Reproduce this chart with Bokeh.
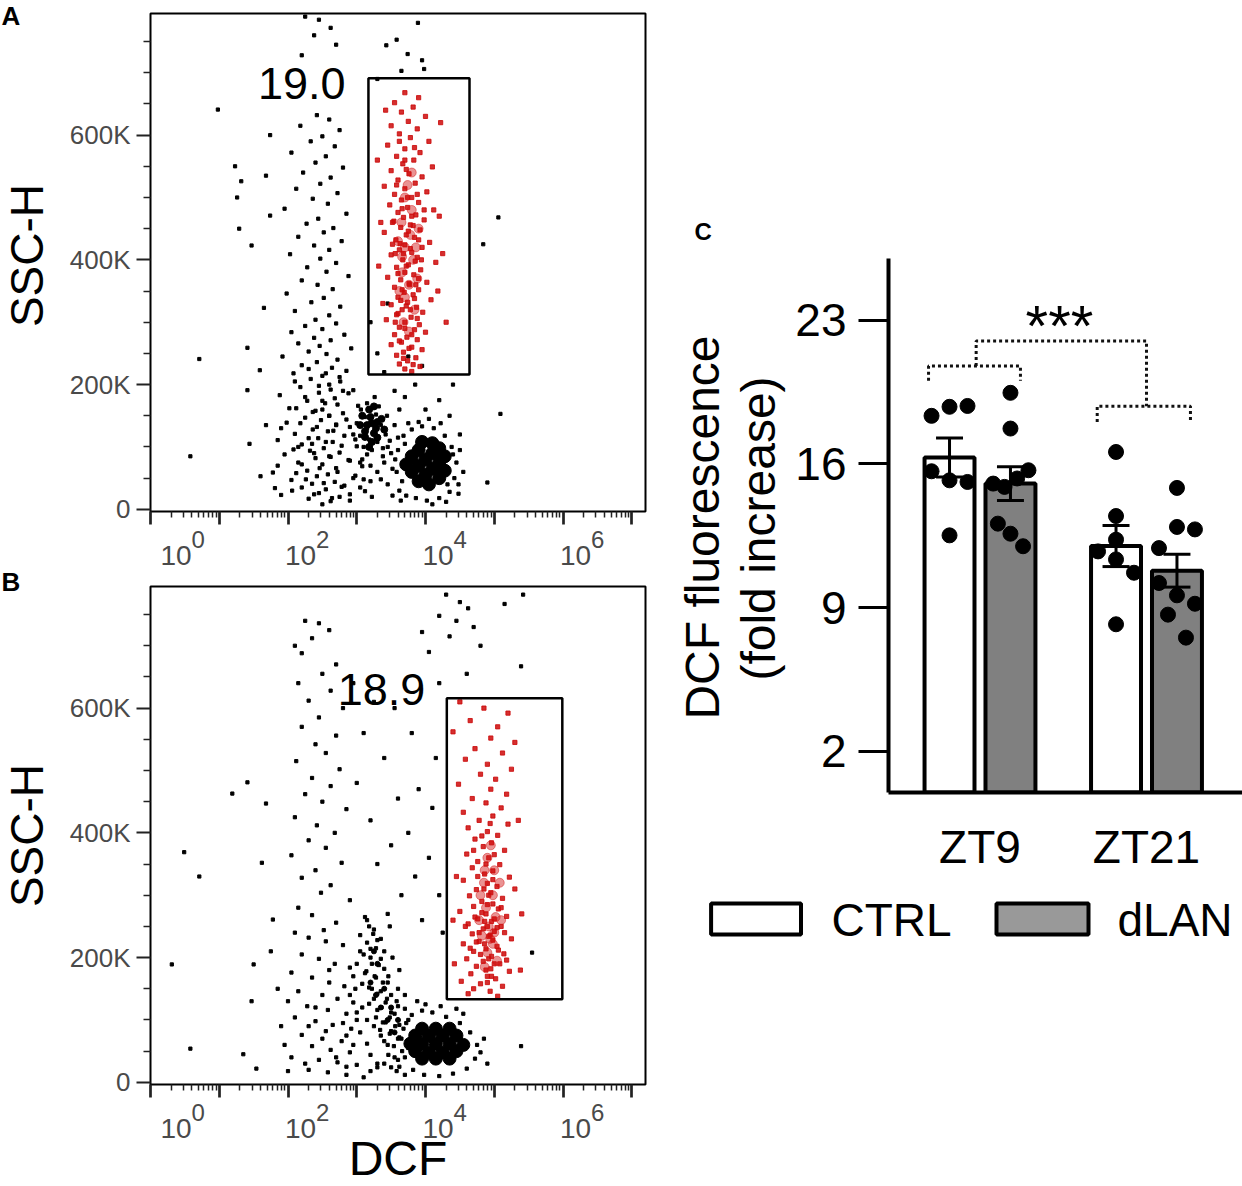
import math
from bokeh.plotting import figure
from bokeh.layouts import row, column
from bokeh.models import Range1d, FixedTicker, Label
from bokeh.core.properties import value
from bokeh.embed import file_html
from bokeh.resources import INLINE

FONT = "Liberation Sans"

# ---------------- Panels A / B : DCF (decades, 10^k) vs SSC-H (K) ----------------
dcf_decades = [0, 1, 2, 3, 4, 5, 6, 7]
dcf_label_exps = [0, 2, 4, 6]
ssc_ticks = [0, 200, 400, 600]
ssc_labels = ["0", "200K", "400K", "600K"]
ssc_minor = [50, 100, 150, 250, 300, 350, 450, 500, 550, 650, 700, 750]

a_pct = "19.0"
a_gate = [3.17, 4.64, 216, 691]          # left, right, bottom, top
a_black = [
    (2.25,790),(2.45,785),(2.62,772),(2.38,760),(2.7,745),(2.2,728),
    (3.58,753),(3.74,730),(3.95,720),(3.43,744),(3.89,780),(3.98,706),(3.65,703),(3.3,690),
    (0.98,641),(1.23,550),(1.32,526),(1.26,500),(1.29,450),(1.47,423),(0.71,241),(0.58,85),(1.41,259),
    (1.41,191),(1.65,323),(1.68,535),(1.74,600),(1.74,471),(1.59,223),(1.68,135),(1.44,105),(1.6,53),(1.81,34),
    (5.06,468),(4.84,425),(5.09,153),(4.9,43),
    (2.42,632),(2.6,625),(2.18,615),(2.75,608),(2.5,598),(2.33,590),(2.68,582),(2.05,572),(2.55,566),(2.4,556),
    (2.8,548),(2.22,540),(2.62,532),(2.47,522),(2.12,514),(2.72,507),(2.36,498),(2.58,490),(1.95,482),(2.85,474),
    (2.44,466),(2.27,458),(2.66,451),
    (2.52,444),(2.15,437),(2.78,430),(2.38,423),(2.6,416),(2.03,409),(2.47,402),(2.7,395),(2.28,388),(2.56,381),
    (2.88,374),(2.2,367),(2.43,360),(2.65,353),(1.98,346),(2.52,339),(2.34,332),(2.76,325),(2.1,318),(2.6,311),(2.4,304),
    (2.7,298),(2.25,294),(2.5,289),(2.05,284),(2.82,280),(2.38,275),(2.62,271),(2.15,266),(2.46,262),(2.92,258),
    (2.3,253),(2.56,249),(1.92,245),(2.72,240),(2.42,236),(2.2,231),(2.64,227),(2.85,222),(2.08,218),(2.5,214),
    (2.33,209),(2.76,205),(2.6,200),(2.18,196),(2.95,191),(2.45,187),(1.88,183),(2.68,178),(2.28,174),(2.54,170),
    (3.02,166),(2.12,162),(2.4,158),(2.8,154),(2.6,150),
    (2.25,147),(2.48,143),(1.98,139),(2.7,136),(2.9,132),(2.36,128),(2.58,125),(2.1,121),(2.82,118),(2.44,114),
    (1.85,111),(2.65,108),(2.2,104),(3.0,101),(2.52,98),(2.32,94),(2.75,91),(1.95,88),(2.6,85),(2.4,82),
    (2.88,79),(2.15,75),(2.5,72),(3.08,69),(2.7,66),(2.28,62),(1.78,59),(2.58,56),(2.42,53),(2.95,50),
    (2.05,47),(2.68,44),(2.35,41),(2.82,38),(2.2,35),(2.55,32),(3.12,29),(2.45,26),(1.9,23),(2.75,20),
    (2.3,17),(2.62,13),(2.5,8),(2.9,24),(3.2,45),(3.15,88),(2.12,58),(2.98,112),
    (3.3,60),(3.45,40),(3.38,85),(3.52,22),(3.22,20),(3.05,35),(3.55,190),(3.4,220),(3.7,180),(3.85,200),
    (4.0,160),(4.2,175),(4.35,150),(3.62,160),(4.4,200),(3.95,230),(3.75,245),(4.5,120),(4.55,60),(4.48,25),
    (3.3,250),(3.2,300),(3.45,330),
    (2.3,225),(2.55,218),(2.75,212),(2.1,205),(2.45,198),(2.62,192),(2.88,186),(2.25,180),(2.5,174),(2.72,168),
    (2.02,162),(2.36,156),(2.6,150),(2.85,144),(2.18,138),(2.42,132),(2.66,126),(2.95,120),(2.3,114),(2.55,108),
    (2.78,102),(2.08,96),(2.38,90),(2.62,84),(2.9,78),(2.2,72),(2.46,66),(2.72,60),(2.98,54),(2.26,48),
    (2.52,42),(2.78,36),(2.06,30),(2.38,24),(2.64,18),(2.9,14),(3.05,75),(3.1,48),(2.35,105),(2.7,135),
    (2.5,160),(2.8,190),(2.15,100),(1.9,130),(1.85,70),(3.35,48),(3.45,100),(3.52,65),
    (3.06,160),(3.12,148),(3.2,140),(3.28,152),(3.15,130),(3.25,125),(3.35,135),(3.05,118),(3.18,112),(3.3,108),
    (3.42,120),(3.1,100),(3.22,95),(3.38,98),(3.48,110),(3.0,138),(3.32,165),(3.44,150),(3.15,170),(3.26,180),
    (3.5,90),(3.4,75),(3.08,80),(3.2,70),(3.55,135),(3.6,115),
    (3.62,30),(3.58,60),(3.6,95),(3.68,118),(3.8,128),(3.95,133),(4.12,130),(4.28,118),(4.38,100),(4.45,75),
    (4.42,50),(4.35,28),(4.2,18),(4.02,14),(3.86,18),(3.72,22),(3.66,45),(3.7,105),(4.32,40),(4.4,88),
    (3.9,140),(4.05,145),(4.22,138),(3.75,138),(4.5,95),(3.56,80),(4.48,40),(3.64,14),(4.1,8),(4.3,12),
]
a_cluster = [(3.15,135),(3.25,122),(3.2,148),(3.3,140),(3.12,116),(3.22,108),(3.08,150),(3.18,160),(3.28,130),
             (3.36,145),(3.12,125),(3.22,138),(3.3,115),(3.18,100),(3.4,128),(3.05,135),(3.25,165)]
a_core = [
    (3.8,60),(3.8,85),(3.9,45),(3.9,70),(3.9,95),(3.95,108),(4.0,55),(4.0,80),(4.05,40),(4.1,65),
    (4.1,90),(4.1,106),(4.2,50),(4.2,75),(4.2,98),(4.28,62),(4.28,85),(3.72,72),
]
a_red = [
    (3.7,668),(3.9,660),(3.55,652),(3.82,645),(3.65,637),(4.0,630),(3.75,622),(3.5,615),(3.88,610),(3.62,602),
    (3.78,596),(4.05,590),(3.45,584),(3.7,578),(3.92,572),(3.58,566),(3.83,560),(3.67,554),(4.1,549),(3.5,543),
    (3.76,538),(3.95,533),(3.6,528),(3.85,523),(3.4,518),(3.7,514),(4.02,509),(3.55,505),(3.8,500),(3.65,496),
    (3.9,492),(3.48,488),(3.74,484),(4.12,480),(3.6,476),(3.86,472),(3.68,468),(3.98,464),(3.52,460),(3.78,456),
    (3.64,452),(3.92,448),(3.4,444),(3.72,440),(3.84,436),(3.57,432),(4.06,428),(3.7,424),(3.95,420),(3.62,416),
    (3.8,412),(3.5,408),(3.88,404),(3.67,400),(4.15,396),(3.75,392),(3.58,388),(3.93,384),(3.7,380),(3.83,376),
    (3.45,372),(3.64,368),(4.02,364),(3.77,360),(3.55,356),(3.9,352),(3.69,348),(3.82,344),(3.6,340),(4.08,336),
    (3.74,332),(3.5,328),(3.87,324),(3.66,320),(3.96,316),(3.58,312),(3.79,308),(3.43,304),(3.7,300),(3.91,296),
    (3.62,292),(3.84,288),(4.0,284),(3.55,280),(3.73,276),(3.88,272),(3.65,268),(3.5,264),(3.8,260),(3.95,256),
    (3.68,252),(3.58,247),(3.86,243),(3.74,238),(3.62,233),(3.92,229),(3.7,225),(3.8,221),
    (3.72,545),(3.58,520),(3.88,505),(3.66,482),(3.8,470),(3.54,462),(3.75,446),(3.9,432),(3.63,426),(3.78,418),
    (3.56,410),(3.85,398),(3.72,390),(3.6,378),(3.9,370),(3.76,362),(3.66,352),(3.84,338),(3.72,326),(3.6,314),
    (3.88,306),(3.7,290),(3.8,280),(3.62,270),(3.76,258),(3.68,242),(3.82,232),(3.7,560),(3.84,580),(3.62,590),
    (4.2,470),(4.25,410),(4.18,350),(4.3,300),(3.35,460),(3.32,390),(3.38,330),(3.3,560),(4.22,620),(3.42,640),
    (3.74,500),(3.68,410),(3.82,455),(3.64,335),(3.86,360),(3.56,300),(3.78,320),(3.94,400),(3.52,425),(3.98,480),
]
a_red_core = [(3.7,500),(3.8,480),(3.65,460),(3.78,440),(3.7,420),(3.82,400),(3.66,380),(3.76,360),(3.7,340),
              (3.84,320),(3.68,300),(3.76,285),(3.6,430),(3.9,450),(3.62,350),(3.88,370),(3.74,520),(3.8,540),
              (3.66,405),(3.86,420)]

b_pct = "18.9"
b_gate = [4.31, 5.99, 133, 616]
b_black = [
    (4.3,782),(4.5,770),(4.62,760),(4.2,748),(4.45,740),(4.7,730),(4.35,715),(3.95,722),(4.05,690),(5.42,782),
    (5.15,767),(5.39,667),(4.8,700),(4.6,655),(4.2,640),
    (2.25,740),(2.45,736),(2.6,725),(2.35,712),(2.1,700),(2.2,688),(2.7,670),(2.5,655),(2.15,640),(2.62,628),
    (2.3,612),(2.8,600),(2.45,585),(2.2,570),(2.7,556),(2.4,542),(2.55,528),(2.12,515),(2.75,502),(2.35,488),
    (2.62,475),(2.25,462),(2.5,450),(2.85,438),(2.1,425),(2.42,412),(2.68,400),(2.3,388),(2.55,376),(2.05,364),
    (2.78,352),(2.4,340),(2.2,328),(2.62,316),(2.48,304),(2.9,292),(2.15,280),(2.35,268),(2.7,256),(2.52,244),
    (3.4,520),(3.0,480),(3.6,455),(3.2,420),(3.75,400),(3.9,470),(4.1,440),(3.5,380),(3.3,350),(3.85,330),
    (4.05,360),(3.65,300),(3.45,270),(4.2,300),(3.1,560),(3.55,600),(2.95,640),(3.8,560),(4.15,520),(3.25,610),
    (3.95,260),(4.25,240),
    (0.31,189),(0.49,369),(0.71,330),(0.58,54),(1.19,463),(1.41,481),(1.68,447),(1.54,22),(1.35,45),(1.5,189),
    (1.47,130),(1.62,352),(1.78,261),(5.55,208),(5.39,58),(1.85,150),(1.9,90),(1.75,210),
    (2.1,240),(2.3,232),(2.55,226),(2.8,220),(3.15,260),(3.25,245),(3.05,236),(3.3,228),(3.2,214),(3.1,205),
    (3.35,198),(3.22,190),(3.4,182),(3.12,175),(3.28,168),(3.45,160),(3.18,152),(3.35,146),(3.5,140),(3.25,134),
    (3.42,128),(3.6,122),(3.3,116),(3.55,110),(3.7,118),(3.48,104),(3.38,96),(3.62,92),
    (2.2,205),(2.45,198),(2.68,190),(2.9,184),(2.05,176),(2.35,168),(2.6,160),(2.82,154),(2.15,146),(2.5,140),
    (2.72,134),(2.95,128),(2.28,122),(2.58,116),(2.85,110),(2.1,104),(2.4,98),(2.65,92),(2.92,86),(3.05,80),
    (2.2,76),(2.5,70),(2.78,66),(3.15,62),(2.35,58),(2.62,52),(2.9,48),(3.2,44),(2.05,40),(2.45,36),
    (2.72,32),(3.0,28),(3.3,24),(2.3,20),(2.58,16),(2.85,12),(3.1,8),(3.45,60),(3.55,40),(3.4,30),
    (3.6,70),(3.5,82),(3.25,90),(3.0,100),(2.98,150),(3.08,120),(3.15,100),(2.85,75),(3.35,75),(3.58,18),(3.7,12),
    (3.12,265),(3.18,250),(3.24,238),(3.15,224),(3.28,215),(3.2,200),(3.32,188),(3.14,178),(3.26,170),(3.38,160),
    (3.22,150),(3.3,142),(3.44,134),(3.18,126),(3.36,120),(3.5,112),(3.28,104),(3.42,96),(3.56,90),(3.34,84),
    (3.48,78),(3.62,72),(3.4,66),(3.54,58),(3.66,50),(3.46,44),(3.6,36),(3.3,30),(3.5,24),(3.2,18),
    (3.05,210),(3.0,190),(2.95,170),(3.08,158),(2.9,140),(3.0,112),(2.8,95),(2.95,60),(2.7,40),(2.85,25),
    (3.6,150),(3.7,140),(3.75,100),(3.68,86),(3.58,130),(3.46,170),(3.52,200),(3.62,180),(3.4,210),(3.35,230),
    (3.48,250),(2.6,180),(2.4,120),(2.3,90),(2.55,82),(2.0,130),(1.95,60),(2.25,30),(2.0,18),
    (3.7,40),(3.65,70),(3.72,95),(3.8,108),(3.95,115),(4.1,112),(4.3,105),(4.5,95),(4.65,80),(4.75,60),
    (4.72,38),(4.6,22),(4.4,14),(4.2,10),(3.98,12),(3.82,20),(3.75,55),(4.8,48),(4.85,70),(3.62,25),
    (4.55,110),(4.0,125),(4.22,122),(3.88,130),(4.45,118),(4.9,30),
]
b_cluster = [(3.2,160),(3.28,140),(3.35,120),(3.45,100),(3.55,80),(3.3,190),(3.4,150),(3.5,120),(3.6,100),(3.25,210)]
b_core = [
    (3.85,50),(3.85,75),(3.95,38),(3.95,62),(3.95,86),(4.05,48),(4.05,75),(4.15,38),(4.15,62),(4.15,86),
    (4.25,48),(4.25,75),(4.35,38),(4.35,62),(4.35,86),(4.45,50),(4.45,75),(4.55,60),(3.78,62),
]
b_red = [
    (4.5,610),(4.85,600),(5.2,592),(4.65,580),(5.05,570),(4.4,562),(4.95,552),(5.3,545),(4.72,535),(5.12,528),
    (4.58,518),(4.9,510),(5.25,502),(4.8,494),(5.02,486),(4.48,478),(4.95,470),(5.18,462),(4.68,455),(4.88,448),
    (5.1,440),(4.55,433),(4.98,427),(4.78,420),(5.2,414),(4.62,408),(4.9,402),(5.05,396),(4.72,390),(4.96,384),
    (4.84,378),(5.15,372),(4.6,366),(4.92,360),(4.76,354),(5.08,349),(4.68,344),(4.98,339),(4.86,334),(5.22,329),
    (4.55,324),(4.9,319),(5.04,314),(4.74,309),(4.95,304),(4.64,299),(5.12,295),(4.82,290),(4.98,286),(4.7,282),
    (5.06,278),(4.5,274),(4.88,270),(5.18,266),(4.76,262),(4.96,258),(4.62,254),(5.1,250),(4.84,246),(5.0,242),
    (4.68,238),(4.92,234),(5.25,230),(4.78,226),(4.55,222),(5.04,218),(4.88,214),(4.7,210),(5.14,206),(4.96,202),
    (4.6,198),(4.84,194),(5.08,190),(4.74,186),(4.95,182),(5.22,178),(4.66,174),(4.9,170),(5.02,166),(4.52,162),
    (4.8,158),(5.12,154),(4.7,150),(4.94,146),(4.62,142),(5.05,138),
    (4.92,300),(4.82,272),(5.0,262),(4.9,250),(4.78,240),(4.98,228),(4.86,222),(5.06,212),(4.92,198),(4.8,205),
    (5.0,190),(4.88,180),(4.96,170),(4.72,265),(5.1,280),(4.85,310),(4.98,325),(4.76,330),(4.88,350),(5.0,365),
    (4.82,395),(4.94,415),(4.7,372),(5.15,240),(4.65,215),(5.18,196),(4.58,250),(5.3,310),(4.45,330),(5.35,420),
    (4.4,260),(4.42,190),(5.4,270),(5.38,180),(4.9,285),(4.86,258),(5.04,248),(4.94,236),(4.74,225),(4.9,160),
]
b_red_core = [(4.9,360),(5.0,340),(4.85,320),(4.98,300),(4.88,280),(5.02,265),(4.92,250),(4.82,235),(4.98,222),
              (4.9,208),(5.04,195),(4.86,185),(4.95,380),(4.8,300),(5.1,260),(4.78,260),(5.08,320),(4.94,230),
              (4.86,340),(5.0,240)]

# ---------------- Panel C : bar chart ----------------
groups = ["ZT9", "ZT21"]
ctrl_mean = [16.31, 12.00]
ctrl_sem = [0.95, 1.00]
dlan_mean = [15.04, 10.80]
dlan_sem = [0.82, 0.80]
ctrl_pts = [[18.34, 18.78, 18.82, 15.64, 15.20, 15.12, 12.52],
            [16.58, 13.46, 12.31, 11.74, 11.35, 10.70, 8.19]]
ctrl_jit = [[-1, 0, 1, -1, 0, 1, 0],
            [0, 0, 0, -1, 0, 1, 0]]
dlan_pts = [[19.46, 17.72, 15.69, 15.29, 15.04, 14.88, 13.09, 12.60, 11.99],
            [14.83, 12.93, 12.81, 11.90, 10.20, 9.60, 9.19, 8.66, 7.54]]
dlan_jit = [[0, 0, 1, 0.37, -0.96, -0.33, -0.7, 0, 0.7],
            [0, 0, 1, -1, -1, 0, 1, -0.5, 0.5]]
c_yticks = [2, 9, 16, 23]
series_names = ["CTRL", "dLAN"]
significance = "***"
c_ylabel = ["DCF fluorescence", "(fold increase)"]


def unzip(pts):
    xs, ys = zip(*pts)
    return list(xs), list(ys)


def bare(width, height, xr, yr, **borders):
    p = figure(width=width, height=height, x_range=xr, y_range=yr, output_backend="svg",
               toolbar_location=None, x_axis_location=None, y_axis_location=None,
               min_border_left=borders.get("left", 0), min_border_right=borders.get("right", 0),
               min_border_top=borders.get("top", 0), min_border_bottom=borders.get("bottom", 0))
    p.grid.visible = False
    p.outline_line_color = None
    p.background_fill_color = "white"
    p.border_fill_color = "white"
    return p


def txt(p, xs, ys, texts, size, **kw):
    p.text(x=xs, y=ys, text=texts, text_font=value(FONT), text_font_size=size,
           text_baseline="middle", **kw)


def flow_panel(height, top_b, black, cluster, cluster_size, core, red, red_core, gate, pct, pct_xy):
    p = figure(width=594, height=height, x_range=Range1d(0, 7.2), y_range=Range1d(-3.5, 795),
               output_backend="svg", toolbar_location=None,
               min_border_left=82, min_border_right=15, min_border_top=top_b, min_border_bottom=14)
    p.grid.visible = False
    p.outline_line_color = "black"
    p.outline_line_width = 2
    p.background_fill_color = "white"
    p.border_fill_color = "white"

    ya = p.yaxis[0]
    ya.ticker = FixedTicker(ticks=ssc_ticks, minor_ticks=ssc_minor)
    ya.major_label_overrides = {t: l for t, l in zip(ssc_ticks, ssc_labels)}
    ya.major_label_text_font = FONT
    ya.major_label_text_font_size = "26px"
    ya.major_label_text_color = "#4a4a4a"
    ya.major_label_standoff = 6
    ya.major_tick_out = 14
    ya.major_tick_in = 0
    ya.minor_tick_out = 7
    ya.minor_tick_in = 0
    ya.major_tick_line_width = 2
    ya.minor_tick_line_width = 1.5
    ya.major_tick_line_color = "#222222"
    ya.minor_tick_line_color = "#222222"
    ya.axis_line_color = None

    xa = p.xaxis[0]
    minor = [k + math.log10(m) for k in dcf_decades[:-1] for m in range(2, 10)]
    xa.ticker = FixedTicker(ticks=dcf_decades, minor_ticks=minor)
    xa.major_label_overrides = {k: "" for k in dcf_decades}
    xa.major_label_text_font_size = "1px"
    xa.major_label_standoff = 0
    xa.major_tick_out = 13
    xa.major_tick_in = 0
    xa.minor_tick_out = 6
    xa.minor_tick_in = 0
    xa.major_tick_line_width = 2.7
    xa.minor_tick_line_width = 1.5
    xa.major_tick_line_color = "#222222"
    xa.minor_tick_line_color = "#222222"
    xa.axis_line_color = None

    bx, by = unzip(black)
    p.scatter(bx, by, marker="square", size=3.2, color="black")
    cx, cy = unzip(cluster)
    p.scatter(cx, cy, marker="circle", size=cluster_size, color="black")
    kx, ky = unzip(core)
    p.scatter(kx, ky, marker="circle", size=13, color="black")
    rx, ry = unzip(red)
    p.scatter(rx, ry, marker="square", size=4.2, color="#cc0a0a", alpha=0.85)
    qx, qy = unzip(red_core)
    p.scatter(qx, qy, marker="circle", size=9, color="#d01010", alpha=0.45)

    p.quad(left=[gate[0]], right=[gate[1]], bottom=[gate[2]], top=[gate[3]],
           fill_color=None, line_color="black", line_width=2.5)
    p.add_layout(Label(x=pct_xy[0], y=pct_xy[1], text=pct, text_align="center", text_baseline="middle",
                       text_font=FONT, text_font_size="45px", text_color="black"))
    return p


def decade_strip(height, y_top, y_bottom, sup_mid, base_mid, xlabel=None, xlabel_mid=None):
    s = bare(594, height, Range1d(0, 7.2), Range1d(y_bottom, y_top), left=82, right=15)
    n = len(dcf_label_exps)
    shift = [10 if k == 0 else -3 for k in dcf_label_exps]
    txt(s, dcf_label_exps, [base_mid] * n, ["10"] * n, "28px", x_offset=shift,
        text_color="#4a4a4a", text_align="left")
    txt(s, dcf_label_exps, [sup_mid] * n, [str(k) for k in dcf_label_exps], "24px",
        x_offset=[d + 31 for d in shift], text_color="#4a4a4a", text_align="left")
    if xlabel:
        txt(s, [3.6], [xlabel_mid], [xlabel], "48px", text_color="black", text_align="center")
    return s


# layout in page pixels (the page has no margin)
pA = flow_panel(525, 13, a_black, a_cluster, 7, a_core, a_red, a_red_core, a_gate, a_pct, (2.2, 683))
pAx = decade_strip(53, 525, 578, 538.5, 554.5)
pB = flow_panel(520, 8, b_black, b_cluster, 5, b_core, b_red, b_red_core, b_gate, b_pct, (3.36, 630))
pBx = decade_strip(88, 1098, 1186, 1111.5, 1127.5, "DCF", 1158)

# left strip: panel letters and y-axis titles
pLT = bare(66, 1186, Range1d(0, 66), Range1d(1186, 0))
txt(pLT, [1, 1], [15.5, 581], ["A", "B"], "26px", text_font_style="bold", text_align="left",
    text_color="black")
txt(pLT, [26, 26], [255, 835], ["SSC-H", "SSC-H"], "46px", angle=math.pi / 2, text_align="center",
    text_color="black")

# ---------------- Panel C ----------------
OFF = 0.183
JIT = 0.108
pC = figure(width=450, height=620, x_range=Range1d(-0.5495, 1.5766), y_range=Range1d(0, 26),
            output_backend="svg", toolbar_location=None,
            min_border_left=96, min_border_right=0, min_border_top=0, min_border_bottom=86)
pC.grid.visible = False
pC.outline_line_color = None
pC.background_fill_color = "white"
pC.border_fill_color = "white"

yc = pC.yaxis[0]
yc.ticker = FixedTicker(ticks=c_yticks, minor_ticks=[])
yc.major_label_text_font = FONT
yc.major_label_text_font_size = "46px"
yc.major_label_text_color = "black"
yc.major_label_standoff = 12
yc.major_tick_out = 30
yc.major_tick_in = 0
yc.major_tick_line_width = 3
yc.minor_tick_line_color = None
yc.axis_line_width = 4
yc.axis_line_color = "black"

xc = pC.xaxis[0]
xc.ticker = FixedTicker(ticks=[0, 1], minor_ticks=[])
xc.major_label_overrides = {i: g for i, g in enumerate(groups)}
xc.major_label_text_font = FONT
xc.major_label_text_font_size = "46px"
xc.major_label_text_color = "black"
xc.major_label_standoff = 22
xc.major_tick_line_color = None
xc.minor_tick_line_color = None
xc.axis_line_width = 4
xc.axis_line_color = "black"

gx = list(range(len(groups)))
for means, sems, pts, jit, off, fill in [(ctrl_mean, ctrl_sem, ctrl_pts, ctrl_jit, -OFF, "white"),
                                         (dlan_mean, dlan_sem, dlan_pts, dlan_jit, OFF, "#808080")]:
    xs = [g + off for g in gx]
    pC.vbar(x=xs, top=means, width=0.30, bottom=0, fill_color=fill, line_color="black", line_width=4)
    lo = [m - s for m, s in zip(means, sems)]
    hi = [m + s for m, s in zip(means, sems)]
    pC.segment(x0=xs, x1=xs, y0=lo, y1=hi, line_color="black", line_width=3)
    pC.segment(x0=[x - 0.081 for x in xs], x1=[x + 0.081 for x in xs], y0=hi, y1=hi, line_color="black", line_width=3)
    pC.segment(x0=[x - 0.081 for x in xs], x1=[x + 0.081 for x in xs], y0=lo, y1=lo, line_color="black", line_width=3)
    for g, vals, js in zip(gx, pts, jit):
        pC.scatter([g + off + j * JIT for j in js], vals, size=15, color="black")

dash = dict(line_dash="3 3", line_width=3, line_color="#111111")
pC.line([-0.309, -0.309, 0.243, 0.243], [20.05, 20.76, 20.76, 20.05], **dash)
pC.line([0.704, 0.704, 1.264, 1.264], [18.04, 18.81, 18.81, 18.04], **dash)
pC.line([-0.023, -0.023, 1.0, 1.0], [20.76, 21.98, 21.98, 18.81], **dash)
pC.add_layout(Label(x=0.477, y=22.75, text=significance, text_align="center", text_baseline="middle",
                    text_font=FONT, text_font_size="58px", text_color="black"))

# y-axis title of panel C (two lines), page-pixel coordinates
pCL = bare(132, 620, Range1d(660, 792), Range1d(792, 258), bottom=86)
txt(pCL, [702, 758], [527, 528], c_ylabel, "48px", angle=math.pi / 2, text_align="center",
    text_color="black")

# strip above panel C with the panel letter
pCtop = bare(582, 258, Range1d(660, 1242), Range1d(258, 0))
txt(pCtop, [694], [230.5], ["C"], "24px", text_font_style="bold", text_align="left", text_color="black")

# legend strip below panel C
pL = bare(582, 70, Range1d(660, 1242), Range1d(948, 878))
pL.quad(left=[710.6], right=[800.5], top=[903], bottom=[934], fill_color="white", line_color="black", line_width=4)
pL.quad(left=[996], right=[1088], top=[903], bottom=[934], fill_color="#999999", line_color="black", line_width=4)
txt(pL, [831, 1117], [919.5, 919.5], series_names, "46px", text_align="left", text_color="black")

left = row(pLT, column(pA, pAx, pB, pBx))
right = column(pCtop, row(pCL, pC), pL)
layout = row(left, right)
open("out.html", "w").write(file_html(layout, INLINE))
